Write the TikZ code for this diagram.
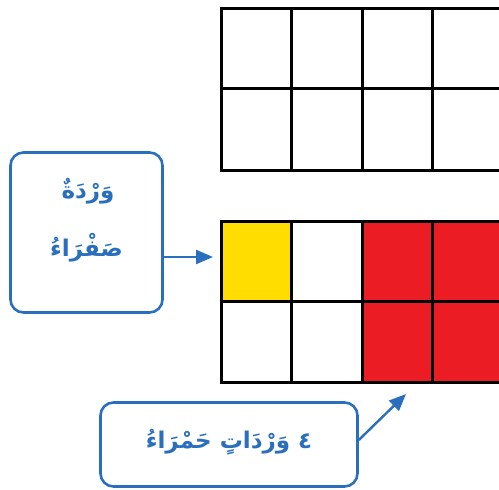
\documentclass[tikz,border=0pt]{standalone}
\usepackage{fontspec}
\newfontfamily\arabicfont[Script=Arabic]{DejaVu Sans}
\TeXXeTstate=1
\usetikzlibrary{arrows.meta}
\definecolor{boxblue}{HTML}{2A6FBE}
\definecolor{cellyellow}{HTML}{FFDD00}
\definecolor{cellred}{HTML}{EC1C24}
\tikzset{
  callout/.style={draw=boxblue, line width=2.6pt, rounded corners=13pt, fill=white},
  arlabel/.style={anchor=base, text=boxblue, font=\arabicfont\bfseries\fontsize{23}{28}\selectfont},
  pointer/.style={boxblue, line width=2.4pt, -{Triangle[length=17pt,width=14pt]}}
}
\begin{document}
\begin{tikzpicture}[x=1pt, y=-1pt]
	\useasboundingbox (0,0) rectangle (499,490);
	\begin{scope}
		\clip (0,0) rectangle (499,490);
		% coloured cells of the lower grid
		\fill[cellyellow] (221,221) rectangle (291.5,301);
		\fill[cellred] (362,221) rectangle (520,382);
		% upper grid
		\draw[line width=3pt] (221,8) rectangle (520,170);
		\draw[line width=3pt] (221,88) -- (520,88);
		\foreach \x in {291.5, 362, 432, 502}
			\draw[line width=3pt] (\x,8) -- (\x,170);
		% lower grid
		\draw[line width=3pt] (221,221) rectangle (520,382);
		\draw[line width=3pt] (221,301) -- (520,301);
		\foreach \x in {291.5, 362, 432, 502}
			\draw[line width=3pt] (\x,221) -- (\x,382);
	\end{scope}
	% yellow callout
	\node[callout, minimum width=152pt, minimum height=160pt] (yellowbox) at (86.5,232.5) {};
	\node[arlabel] (yellowline1) at (88,198) {\beginR وَرْدَةٌ\endR};
	\node[arlabel] (yellowline2) at (86.5,256) {\beginR صَفْرَاءُ\endR};
	\coordinate (yellowtip) at (213,257);
	\draw[pointer] (yellowbox.east |- yellowtip) -- (yellowtip);
	% red callout
	\node[callout, minimum width=257pt, minimum height=84pt] (redbox) at (229,444.5) {};
	\node[arlabel] (redline) at (229,448) {\beginR ٤ وَرْدَاتٍ حَمْرَاءُ\endR};
	\coordinate (redtip) at (406,394);
	\draw[pointer] (redbox.east |- 0,440) -- (redtip);
\end{tikzpicture}
\end{document}
